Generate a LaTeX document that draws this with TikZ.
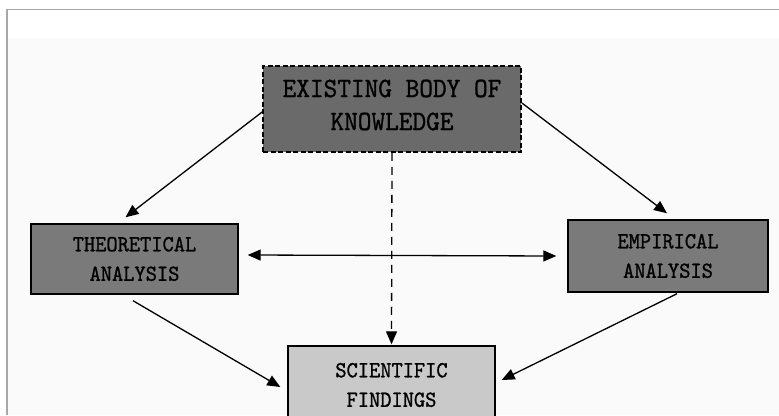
\documentclass[tikz,border=0pt]{standalone}
\usepackage{fontspec}
\newfontfamily\boxfont[FakeStretch=0.93, FakeBold=1.0]{lmmono10-regular.otf}
\usetikzlibrary{arrows.meta,calc}
\definecolor{darkbox}{HTML}{6A6A6A}
\definecolor{midbox}{HTML}{7A7A7A}
\definecolor{lightbox}{HTML}{C9C9C9}
\definecolor{framegray}{HTML}{A8A8A8}
\definecolor{bgtint}{HTML}{FAFAFA}
\begin{document}
\begin{tikzpicture}[x=1pt,y=-1pt,
  boxbase/.style={draw=black, line width=1.4pt, align=center, inner sep=0pt, text=black},
  bigtext/.style={font=\boxfont\fontsize{28}{33}\selectfont, align=center, inner sep=0pt},
  smalltext/.style={font=\boxfont\fontsize{23}{29.5}\selectfont},
  arr/.style={line width=1.3pt, -{Triangle[length=13pt,width=11pt]}},
  dblarr/.style={line width=1.3pt, {Triangle[length=13pt,width=11pt]}-{Triangle[length=13pt,width=11pt]}}
]
\useasboundingbox (0,0) rectangle (779,415);
\fill[white] (0,0) rectangle (779,415);
\fill[bgtint] (7,38) rectangle (779,415);
\draw[framegray, line width=1.5pt] (779,9.5) -- (7,9.5) -- (7,415);

\node[boxbase, fill=darkbox, dash pattern=on 5pt off 2.5pt, line width=1.8pt, minimum width=258pt, minimum height=86pt] (ex) at (392,109) {};
\node[bigtext] (ext) at ($(ex.center)+(0,-4)$) {EXISTING BODY OF\\KNOWLEDGE};
\node[boxbase, smalltext, fill=midbox, minimum width=207pt, minimum height=70pt] (th) at (134.5,259) {THEORETICAL\\ANALYSIS};
\node[boxbase, smalltext, fill=midbox, minimum width=200pt, minimum height=72pt] (em) at (668,256) {EMPIRICAL\\ANALYSIS};
\node[boxbase, smalltext, fill=lightbox, minimum width=207pt, minimum height=78pt] (sc) at (391.5,385) {SCIENTIFIC\\FINDINGS};

\draw[arr] ($(ex.west)+(0,3)$) -- ($(th.north)+(-9,-6)$);
\draw[arr] ($(ex.east)+(0,-6)$) -- ($(em.north)+(-1,-6)$);
\draw[dblarr] ($(th.east)+(9,-4)$) -- ($(em.west)+(-11,0)$);
\draw[arr, dash pattern=on 8pt off 6pt] (ex.south) -- ($(sc.north)+(0,-1)$);
\draw[arr] ($(th.south)+(-1.5,6)$) -- ($(sc.west)+(-7,2)$);
\draw[arr] ($(em.south)+(9,1)$) -- ($(sc.east)+(6,-5)$);
\end{tikzpicture}
\end{document}
